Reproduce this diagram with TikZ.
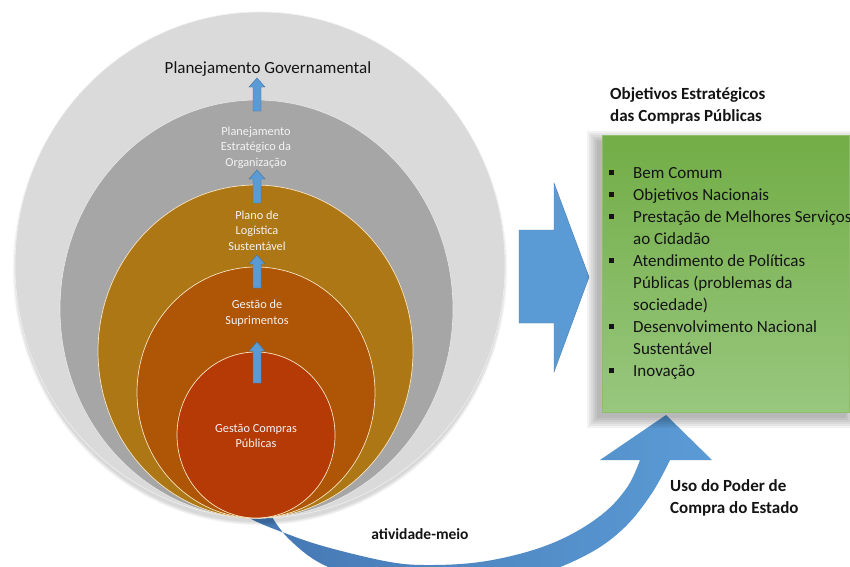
\documentclass[tikz,border=0pt]{standalone}
\usepackage{fontspec}
\setmainfont{Carlito}
\definecolor{cOuter}{RGB}{218,218,218}
\definecolor{cGray}{RGB}{166,166,166}
\definecolor{cGold}{RGB}{172,119,20}
\definecolor{cOrange}{RGB}{174,85,6}
\definecolor{cRed}{RGB}{182,58,5}
\definecolor{cBlue}{RGB}{91,155,213}
\definecolor{cBlueDark}{RGB}{68,118,178}
\definecolor{cEdge}{RGB}{65,113,156}
\definecolor{gTop}{RGB}{114,173,70}
\definecolor{gMid}{RGB}{170,209,143}
\definecolor{gBot}{RGB}{152,199,126}
\definecolor{cLine}{RGB}{248,228,195}
\definecolor{cInText}{RGB}{243,243,243}
\definecolor{cText}{RGB}{20,20,20}
\newcommand{\bul}{\makebox[24pt][l]{\rule[3pt]{5pt}{5pt}}}
\newcommand{\cont}{\hspace*{24pt}}
\tikzset{
  ring/.style={draw=cLine, line width=0.7pt},
  uparrow/.style={fill=cBlue, draw=cEdge, line width=0.4pt},
  intext/.style={align=center, text=cInText, inner sep=0pt,
    font=\fontsize{12.3}{15.5}\selectfont},
  itemtext/.style={anchor=base west, inner sep=0pt, text=cText,
    font=\fontsize{17}{20}\selectfont},
  boldlabel/.style={inner sep=0pt, text=cText, align=left,
    font=\fontsize{17}{22}\selectfont\bfseries},
}
\newcommand{\uparr}[3]{%
  \draw[uparrow] (#1-4,#3) -- (#1-4,#2+9) -- (#1-8,#2+9) -- (#1,#2)
    -- (#1+8,#2+9) -- (#1+4,#2+9) -- (#1+4,#3) -- cycle;}
\begin{document}
\begin{tikzpicture}[x=1pt,y=-1pt]
\useasboundingbox (0,0) rectangle (850,566);
\fill[white] (0,0) rectangle (850,566);

% curved arrow (atividade-meio / uso do poder de compra)
\shade[left color=cBlueDark, right color=cBlue]
  plot[smooth, tension=0.6] coordinates {(238,500) (248,517) (290,535) (330,548)
     (390,562) (430,565) (480,562) (530,551) (570,535) (605,512) (628,486) (640,460)}
  -- (600,460) -- (666,415) -- (712,460) -- (670,460)
  -- plot[smooth, tension=0.6] coordinates {(670,460) (652,493) (625,527) (590,553)
     (540,574) (480,586) (420,585) (360,577) (320,563) (290,540) (272,517) (266,500)}
  -- cycle;

% soft shadow under circles
\foreach \k in {0,2,...,8}{
  \fill[black, opacity=0.03] (260,269) ellipse [x radius=244+\k*0.4, y radius=253+\k*0.4];
}
% nested circles
\fill[cOuter] (260,265) ellipse [x radius=245, y radius=253];
\draw[white!60!cOuter, line width=0.6pt] (260,265) ellipse [x radius=245, y radius=253];
\fill[cGray] (256.5,309) ellipse [x radius=196.5, y radius=209];
\draw[white!75!cGray, line width=0.6pt] (256.5,309) ellipse [x radius=196.5, y radius=209];
\filldraw[fill=cGold, ring] (255.5,351.5) ellipse [x radius=157.5, y radius=166.5];
\filldraw[fill=cOrange, ring] (256,392.5) ellipse [x radius=119, y radius=125.5];
\filldraw[fill=cRed, ring] (256,435) ellipse [x radius=79, y radius=83];

% texts in circles
\node[inner sep=0pt, text=cText, font=\fontsize{17}{20}\selectfont] (gov) at (268,69) {Planejamento Governamental};
\node[intext] (peo) at (256,147.5) {Planejamento\\Estratégico da\\Organização};
\node[intext] (pls) at (257,230.5) {Plano de\\Logística\\Sustentável};
\node[intext] (gsu) at (257,313) {Gestão de\\Suprimentos};
\node[intext] (gcp) at (256,436) {Gestão Compras\\Públicas};

% small up arrows
\uparr{257}{78}{111}
\uparr{257}{170}{203}
\uparr{257}{255}{288}
\uparr{257}{342}{383}

% big right arrow
\draw[fill=cBlue, draw=cEdge!70!cBlue, line width=0.4pt]
  (519,230) -- (554,230) -- (554,183) -- (589,277) -- (554,372) -- (554,323) -- (519,323) -- cycle;

% green box shadow
\foreach \k in {0,2,...,10}{
  \fill[black, opacity=0.05] (597-\k,141-\k) rectangle (846+\k,418+\k);
}
% green box
\shade[top color=gTop, middle color=gMid, bottom color=gBot] (602,135) rectangle (849,412);
\draw[gTop!80!white, line width=0.5pt] (602,135) rectangle (849,412);

% title
\node[boldlabel, anchor=north west] (tit) at (610,87) {Objetivos Estratégicos\\das Compras Públicas};

% items
\node[itemtext] (i1) at (609,178) {\bul Bem Comum};
\node[itemtext] (i2) at (609,200) {\bul Objetivos Nacionais};
\node[itemtext] (i3) at (609,222) {\bul Prestação de Melhores Serviços};
\node[itemtext] (i4) at (609,244) {\cont ao Cidadão};
\node[itemtext] (i5) at (609,266) {\bul Atendimento de Políticas};
\node[itemtext] (i6) at (609,288) {\cont Públicas (problemas da};
\node[itemtext] (i7) at (609,310) {\cont sociedade)};
\node[itemtext] (i8) at (609,332) {\bul Desenvolvimento Nacional};
\node[itemtext] (i9) at (609,354) {\cont Sustentável};
\node[itemtext] (i10) at (609,376) {\bul Inovação};

% labels
\node[boldlabel, anchor=north west] (uso) at (670,479) {Uso do Poder de\\Compra do Estado};
\node[boldlabel, anchor=base, font=\fontsize{15.5}{20}\selectfont\bfseries] (ati) at (420,539) {atividade-meio};
\end{tikzpicture}
\end{document}
